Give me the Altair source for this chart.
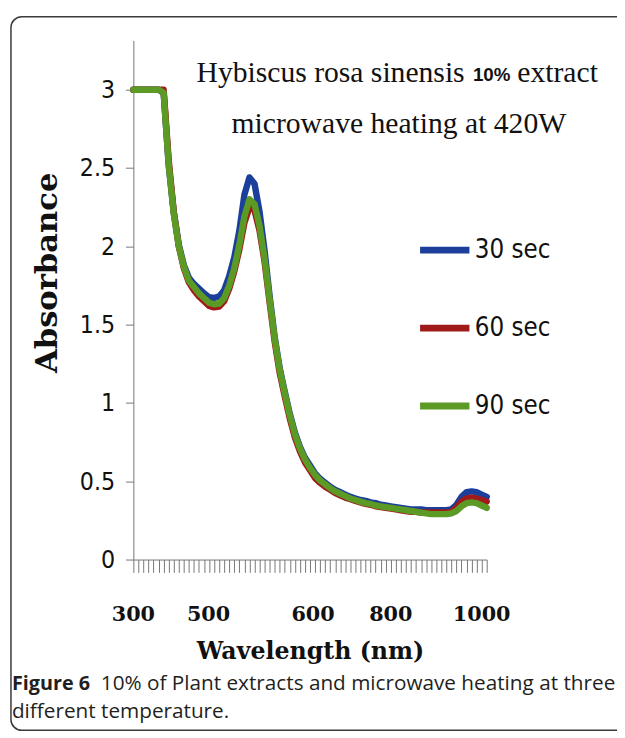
import altair as alt
import pandas as pd

# ---------------- data ----------------
wavelength = [300, 310, 320, 330, 340, 350, 360, 370, 380, 390,
              400, 410, 420, 430, 440, 450, 460, 470, 480, 490,
              500, 510, 520, 530, 540, 550, 560, 570, 580, 590,
              600, 610, 620, 630, 640, 650, 660, 670, 680, 690,
              700, 710, 720, 730, 740, 750, 760, 770, 780, 790,
              800, 810, 820, 830, 840, 850, 860, 870, 880, 890,
              900, 910, 920, 930, 940, 950, 960, 970, 980, 990, 1000]

abs_30 = [3.00, 3.00, 3.00, 3.00, 3.00, 3.00, 2.98, 2.52, 2.22, 2.01,
          1.88, 1.80, 1.76, 1.73, 1.70, 1.675, 1.67, 1.68, 1.72, 1.81,
          1.93, 2.10, 2.33, 2.44, 2.40, 2.22, 1.97, 1.68, 1.42, 1.22,
          1.07, 0.93, 0.81, 0.72, 0.65, 0.60, 0.55, 0.515, 0.49, 0.465,
          0.445, 0.43, 0.415, 0.40, 0.39, 0.38, 0.375, 0.365, 0.36, 0.35,
          0.345, 0.34, 0.335, 0.33, 0.325, 0.32, 0.32, 0.32, 0.315, 0.315,
          0.315, 0.315, 0.315, 0.32, 0.35, 0.40, 0.43, 0.435, 0.43, 0.415, 0.40]

abs_60 = [3.00, 3.00, 3.00, 3.00, 3.00, 3.00, 3.00, 2.55, 2.22, 2.00,
          1.86, 1.77, 1.72, 1.68, 1.65, 1.62, 1.61, 1.615, 1.65, 1.73,
          1.84, 1.98, 2.15, 2.25, 2.23, 2.10, 1.90, 1.64, 1.39, 1.19,
          1.04, 0.90, 0.78, 0.69, 0.62, 0.57, 0.52, 0.49, 0.465, 0.445,
          0.425, 0.41, 0.395, 0.385, 0.375, 0.365, 0.355, 0.35, 0.34, 0.335,
          0.33, 0.325, 0.32, 0.315, 0.31, 0.305, 0.305, 0.30, 0.30, 0.30,
          0.30, 0.30, 0.30, 0.305, 0.33, 0.37, 0.39, 0.395, 0.39, 0.38, 0.37]

abs_90 = [3.00, 3.00, 3.00, 3.00, 3.00, 3.00, 2.98, 2.52, 2.21, 2.00,
          1.87, 1.78, 1.74, 1.70, 1.67, 1.64, 1.63, 1.635, 1.67, 1.75,
          1.86, 2.01, 2.19, 2.30, 2.27, 2.13, 1.92, 1.66, 1.41, 1.21,
          1.06, 0.92, 0.80, 0.71, 0.64, 0.585, 0.54, 0.505, 0.48, 0.455,
          0.435, 0.42, 0.405, 0.39, 0.38, 0.37, 0.36, 0.355, 0.345, 0.34,
          0.335, 0.33, 0.325, 0.32, 0.315, 0.31, 0.305, 0.30, 0.295, 0.29,
          0.29, 0.29, 0.29, 0.295, 0.31, 0.34, 0.36, 0.365, 0.36, 0.345, 0.33]

series_names = ["30 sec", "60 sec", "90 sec"]
series_colors = ["#1B3F9A", "#A01A1A", "#5B9A24"]

y_ticks = [0, 0.5, 1, 1.5, 2, 2.5, 3]
x_label_text = ["300", "500", "600", "800", "1000"]
x_label_pos = [300, 449, 656, 810, 990]

title_part1 = "Hybiscus rosa sinensis"
title_part2 = "10%"
title_part3 = "extract"
title_line2 = "microwave heating at 420W"
caption_bold = "Figure 6"
caption_rest = "10% of Plant extracts and microwave heating at three"
caption_line2 = "different temperature."

# ---------------- tables ----------------
rows = []
for name, vals in zip(series_names, [abs_30, abs_60, abs_90]):
    for w, v in zip(wavelength, vals):
        rows.append({"Wavelength": w, "Absorbance": v, "Series": name})
df = pd.DataFrame(rows)
labels_df = pd.DataFrame({"Wavelength": x_label_pos, "label": x_label_text})
one = pd.DataFrame({"a": [0]})

W, H = 358, 526
serif = "Liberation Serif, Times New Roman, serif"
narrow = "Liberation Sans Narrow, Arial Narrow, DejaVu Sans Condensed, sans-serif"
century = "DejaVu Serif, serif"

x_scale = alt.Scale(domain=[300, 1000], nice=False, zero=False)
y_scale = alt.Scale(domain=[0, 3.315], nice=False)

x_axis = alt.Axis(values=wavelength, labels=False, tickSize=13, grid=False,
                  domainColor="#777777", tickColor="#777777", tickWidth=1,
                  title="Wavelength (nm)", titleFont=century, titleFontSize=24,
                  titleFontWeight="bold", titleColor="#111111",
                  titleY=100, titleBaseline="alphabetic")

border = alt.Chart(one).mark_rect(
    fillOpacity=0, stroke="#3a3a3a", strokeWidth=1.5, cornerRadius=11
).encode(x=alt.value(-124), x2=alt.value(700), y=alt.value(-24), y2=alt.value(699))

lines = alt.Chart(df).mark_line(
    strokeWidth=6.5, strokeCap="round", strokeJoin="round"
).encode(
    x=alt.X("Wavelength:Q", scale=x_scale, axis=x_axis),
    y=alt.Y("Absorbance:Q", scale=y_scale,
            axis=alt.Axis(values=y_ticks, format="~g", tickSize=8, grid=False,
                          labelFont=narrow, labelFontSize=25, labelColor="#111111",
                          labelPadding=11, domainColor="#777777", tickColor="#777777",
                          title="Absorbance", titleFont=century, titleFontSize=31,
                          titleFontWeight="bold", titleColor="#111111",
                          titleAngle=270, titleX=-87, titleY=235,
                          titleAlign="center", titleBaseline="middle")),
    color=alt.Color("Series:N",
                    scale=alt.Scale(domain=series_names, range=series_colors),
                    legend=alt.Legend(orient="none", legendX=287, legendY=184, title=None,
                                      symbolType="stroke", symbolSize=2500,
                                      symbolStrokeWidth=7, labelFont=narrow,
                                      labelFontSize=26, labelColor="#111111",
                                      labelOffset=2, rowPadding=36, padding=0)),
)

xlabels = alt.Chart(labels_df).mark_text(
    font=century, fontSize=21, fontWeight="bold", color="#111111", baseline="alphabetic"
).encode(x=alt.X("Wavelength:Q", scale=x_scale, axis=x_axis),
         y=alt.value(588), text="label:N")

t1 = alt.Chart(one).mark_text(text=title_part1, font=serif, fontSize=30, align="left",
                              baseline="alphabetic", color="#111111").encode(
    x=alt.value(64), y=alt.value(42))
t2 = alt.Chart(one).mark_text(text=title_part2, font="Liberation Sans", fontSize=19,
                              fontWeight="bold", align="left", baseline="alphabetic",
                              color="#111111").encode(x=alt.value(344), y=alt.value(41))
t3 = alt.Chart(one).mark_text(text=title_part3, font=serif, fontSize=30, align="left",
                              baseline="alphabetic", color="#111111").encode(
    x=alt.value(389), y=alt.value(42))
t4 = alt.Chart(one).mark_text(text=title_line2, font=serif, fontSize=30, align="center",
                              baseline="alphabetic", color="#111111").encode(
    x=alt.value(269), y=alt.value(94))

c1 = alt.Chart(one).mark_text(text=caption_bold, font="Open Sans", fontSize=20,
                              fontWeight="bold", align="left", baseline="alphabetic",
                              color="#231F20").encode(x=alt.value(-123), y=alt.value(658))
c2 = alt.Chart(one).mark_text(text=caption_rest, font="Open Sans", fontSize=21,
                              align="left", baseline="alphabetic",
                              color="#231F20").encode(x=alt.value(-33), y=alt.value(658))
c3 = alt.Chart(one).mark_text(text=caption_line2, font="Open Sans", fontSize=21,
                              align="left", baseline="alphabetic",
                              color="#231F20").encode(x=alt.value(-123), y=alt.value(687))

chart = alt.layer(border, lines, xlabels, t1, t2, t3, t4, c1, c2, c3).properties(
    width=W, height=H,
    autosize=alt.AutoSizeParams(type="none"),
    padding={"left": 127, "top": 28, "right": 132, "bottom": 176},
    background="white",
).configure_view(stroke=None)

chart.save("out.html", embed_options={"renderer": "svg", "actions": False})
